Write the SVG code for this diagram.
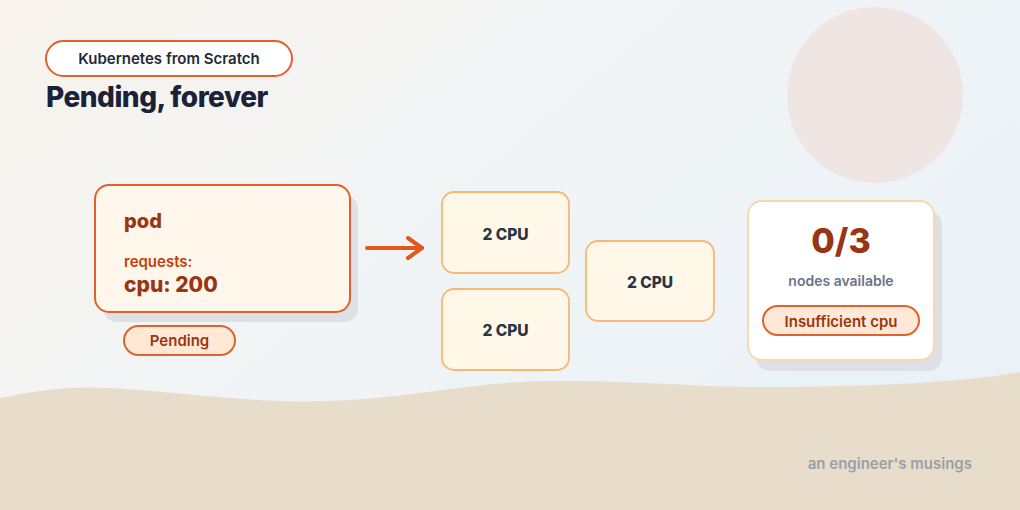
<svg xmlns="http://www.w3.org/2000/svg" width="1020" height="510" viewBox="0 0 1020 510">
<defs>
<linearGradient id="bg" x1="0" y1="0" x2="1" y2="0.6">
<stop offset="0" stop-color="#f8f3ec"/>
<stop offset="0.5" stop-color="#f1f4f6"/>
<stop offset="1" stop-color="#eaf2f7"/>
</linearGradient>
<marker id="chev" viewBox="0 0 20 26" markerWidth="20" markerHeight="26" refX="17" refY="13" orient="auto" markerUnits="userSpaceOnUse">
<path d="M3,3 L17,13 L3,23" fill="none" stroke="#e4571b" stroke-width="4" stroke-linecap="round" stroke-linejoin="round"/>
</marker>
</defs>
<style>
text{font-family:Inter,"Noto Sans",sans-serif}
.pill{fill:#ffe9d6;stroke:#e0622a;stroke-width:2}
.pilltxt{font-size:15px;font-weight:600;fill:#9a3412;text-anchor:middle}
.cpu{fill:#fff8e8;stroke:#f6b872;stroke-width:1.8}
.cputxt{font-size:15.5px;font-weight:800;fill:#2b3445;text-anchor:middle}
.shadow{fill:#dde1e6}
</style>
<rect width="1020" height="510" fill="url(#bg)"/>
<circle cx="875" cy="95" r="88" fill="#efe6e3"/>
<path d="M0,398 C40,390 70,386 110,388 C180,392 260,404 330,401 C420,397 470,382 550,381 C640,380 700,388 780,387 C880,386 960,383 1020,372 L1020,510 L0,510 Z" fill="#e8dccb"/>
<g id="header">
<rect x="46" y="41" width="246" height="35" rx="17.5" fill="#ffffff" stroke="#e0622a" stroke-width="2"/>
<text x="169" y="64" font-size="15" font-weight="600" fill="#1e2a3a" text-anchor="middle">Kubernetes from Scratch</text>
<text x="46" y="107" font-size="28" font-weight="800" fill="#1a2238" letter-spacing="-0.5">Pending, forever</text>
</g>
<g id="pod">
<rect class="shadow" x="103" y="195" width="255" height="127" rx="14"/>
<rect x="95" y="185" width="255" height="127" rx="14" fill="#fff6ec" stroke="#e0622a" stroke-width="2"/>
<text x="124" y="228" font-size="20" font-weight="800" fill="#9a3412">pod</text>
<text x="124" y="267" font-size="15" font-weight="600" fill="#c2410c">requests:</text>
<text x="124" y="292" font-size="21" font-weight="800" fill="#9a3412">cpu: 200</text>
</g>
<g id="pending">
<rect class="pill" x="124" y="326" width="111" height="29" rx="14.5"/>
<text class="pilltxt" x="179.5" y="346">Pending</text>
</g>
<g id="connectors">
<line x1="367" y1="248" x2="422" y2="248" stroke="#e4571b" stroke-width="4" stroke-linecap="round" marker-end="url(#chev)"/>
</g>
<g id="node1">
<rect class="cpu" x="442" y="192" width="127" height="81" rx="12"/>
<text class="cputxt" x="505.5" y="240">2 CPU</text>
</g>
<g id="node2">
<rect class="cpu" x="442" y="289" width="127" height="81" rx="12"/>
<text class="cputxt" x="505.5" y="336">2 CPU</text>
</g>
<g id="node3">
<rect class="cpu" x="586" y="241" width="128" height="80" rx="12"/>
<text class="cputxt" x="650" y="288">2 CPU</text>
</g>
<g id="result">
<rect class="shadow" x="756" y="211" width="186" height="160" rx="14"/>
<rect x="748" y="201" width="186" height="159" rx="14" fill="#ffffff" stroke="#fbd7a8" stroke-width="1.8"/>
<text x="841" y="253" font-size="34" font-weight="800" fill="#9a3412" text-anchor="middle">0/3</text>
<text x="841" y="286" font-size="14" font-weight="600" fill="#6b7489" text-anchor="middle">nodes available</text>
<rect class="pill" x="763" y="306" width="156" height="29" rx="14.5"/>
<text class="pilltxt" x="841" y="327">Insufficient cpu</text>
</g>
<text x="972" y="469" font-size="15" font-weight="600" fill="#9aa0a8" text-anchor="end">an engineer's musings</text>
</svg>
